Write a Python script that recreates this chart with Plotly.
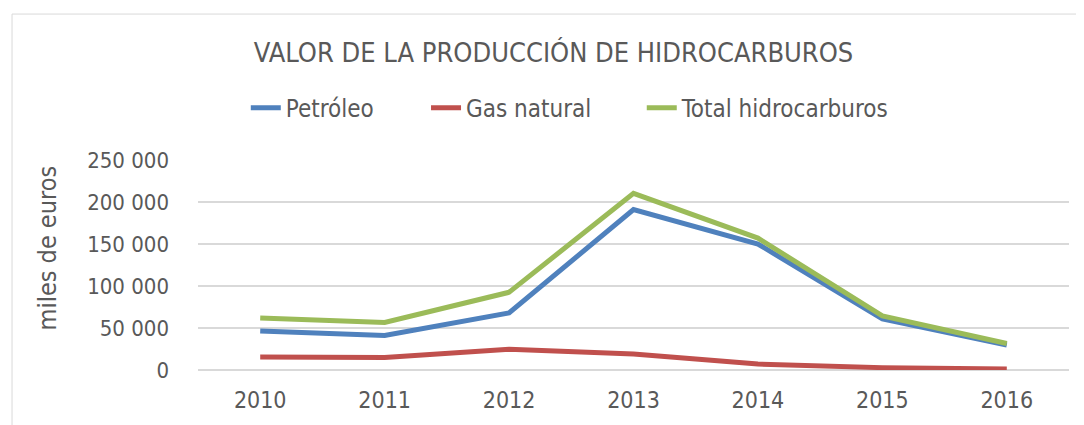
import plotly.graph_objects as go

YEARS = ["2010", "2011", "2012", "2013", "2014", "2015", "2016"]
PETROLEO = [46400, 41000, 68000, 191000, 150000, 60800, 29800]
GAS_NATURAL = [15500, 15000, 24600, 19000, 7100, 2800, 1200]
TOTAL = [62000, 56500, 92500, 210300, 157000, 64300, 31500]

SERIES_COLORS = ["#4F81BD", "#C0504D", "#9BBB59"]
LEGEND_X = [0.221, 0.3885, 0.589]  # one legend box per series, like the original spacing
FONT_FAMILY = "Liberation Sans Narrow, DejaVu Sans Condensed, Arial Narrow, sans-serif"
TEXT_COLOR = "#595959"


def add_series(fig, x_values, y_values, name, color, legend_id):
    fig.add_trace(
        go.Scatter(
            x=x_values,
            y=y_values,
            name=name,
            mode="lines",
            line=dict(color=color, width=5),
            legend=legend_id,
            showlegend=True,
        )
    )
    return fig


def legend_box(x_pos):
    return dict(
        orientation="h",
        xref="container",
        yref="container",
        x=x_pos,
        xanchor="left",
        y=0.76,
        yanchor="middle",
        font=dict(size=24, color=TEXT_COLOR, family=FONT_FAMILY),
        itemwidth=30,
        bgcolor="rgba(0,0,0,0)",
    )


def add_chart_border(fig):
    fig.add_shape(  # light frame around the chart area
        type="rect",
        xref="paper",
        yref="paper",
        x0=-0.2135,
        x1=1.0126,
        y0=-0.30,
        y1=1.695,
        line=dict(color="#D9D9D9", width=1),
        layer="below",
    )
    return fig


def add_y_title(fig, text):
    fig.add_annotation(  # rotated y-axis title, placed like the original
        text=text,
        xref="paper",
        yref="paper",
        x=-0.173,
        y=0.58,
        xanchor="center",
        yanchor="middle",
        textangle=-90,
        showarrow=False,
        font=dict(size=25, color=TEXT_COLOR, family=FONT_FAMILY),
    )
    return fig


def create_production_chart():
    fig = go.Figure()

    fig = add_series(fig, YEARS, PETROLEO, "Petróleo", SERIES_COLORS[0], "legend")
    fig = add_series(fig, YEARS, GAS_NATURAL, "Gas natural", SERIES_COLORS[1], "legend2")
    fig = add_series(fig, YEARS, TOTAL, "Total hidrocarburos", SERIES_COLORS[2], "legend3")

    fig = add_chart_border(fig)
    fig = add_y_title(fig, "miles de euros")

    fig.update_layout(
        title=dict(
            text="VALOR DE LA PRODUCCIÓN DE HIDROCARBUROS",
            x=0.507,
            xanchor="center",
            y=0.894,
            yanchor="middle",
            font=dict(size=27, color=TEXT_COLOR, family=FONT_FAMILY),
        ),
        showlegend=True,
        legend=legend_box(LEGEND_X[0]),
        legend2=legend_box(LEGEND_X[1]),
        legend3=legend_box(LEGEND_X[2]),
        separators=", ",
        font=dict(family=FONT_FAMILY, color=TEXT_COLOR),
        plot_bgcolor="white",
        paper_bgcolor="white",
        width=1076,
        height=417,
        margin=dict(l=190, r=15, t=152, b=55),
    )
    fig.update_xaxes(
        type="category",
        range=[-0.5, 6.5],
        showgrid=False,
        showline=False,
        ticks="",
        ticklabelstandoff=14,
        tickfont=dict(size=23, color=TEXT_COLOR),
    )
    fig.update_yaxes(
        range=[0, 250000],
        dtick=50000,
        tickformat=",d",
        showgrid=True,
        gridcolor="#D9D9D9",
        gridwidth=1.5,
        zeroline=True,
        zerolinecolor="#D9D9D9",
        zerolinewidth=1.5,
        ticks="",
        ticklabelstandoff=28,
        tickfont=dict(size=22, color=TEXT_COLOR),
    )

    return fig


if __name__ == "__main__":
    fig = create_production_chart()
    fig.write_html("out.html")
